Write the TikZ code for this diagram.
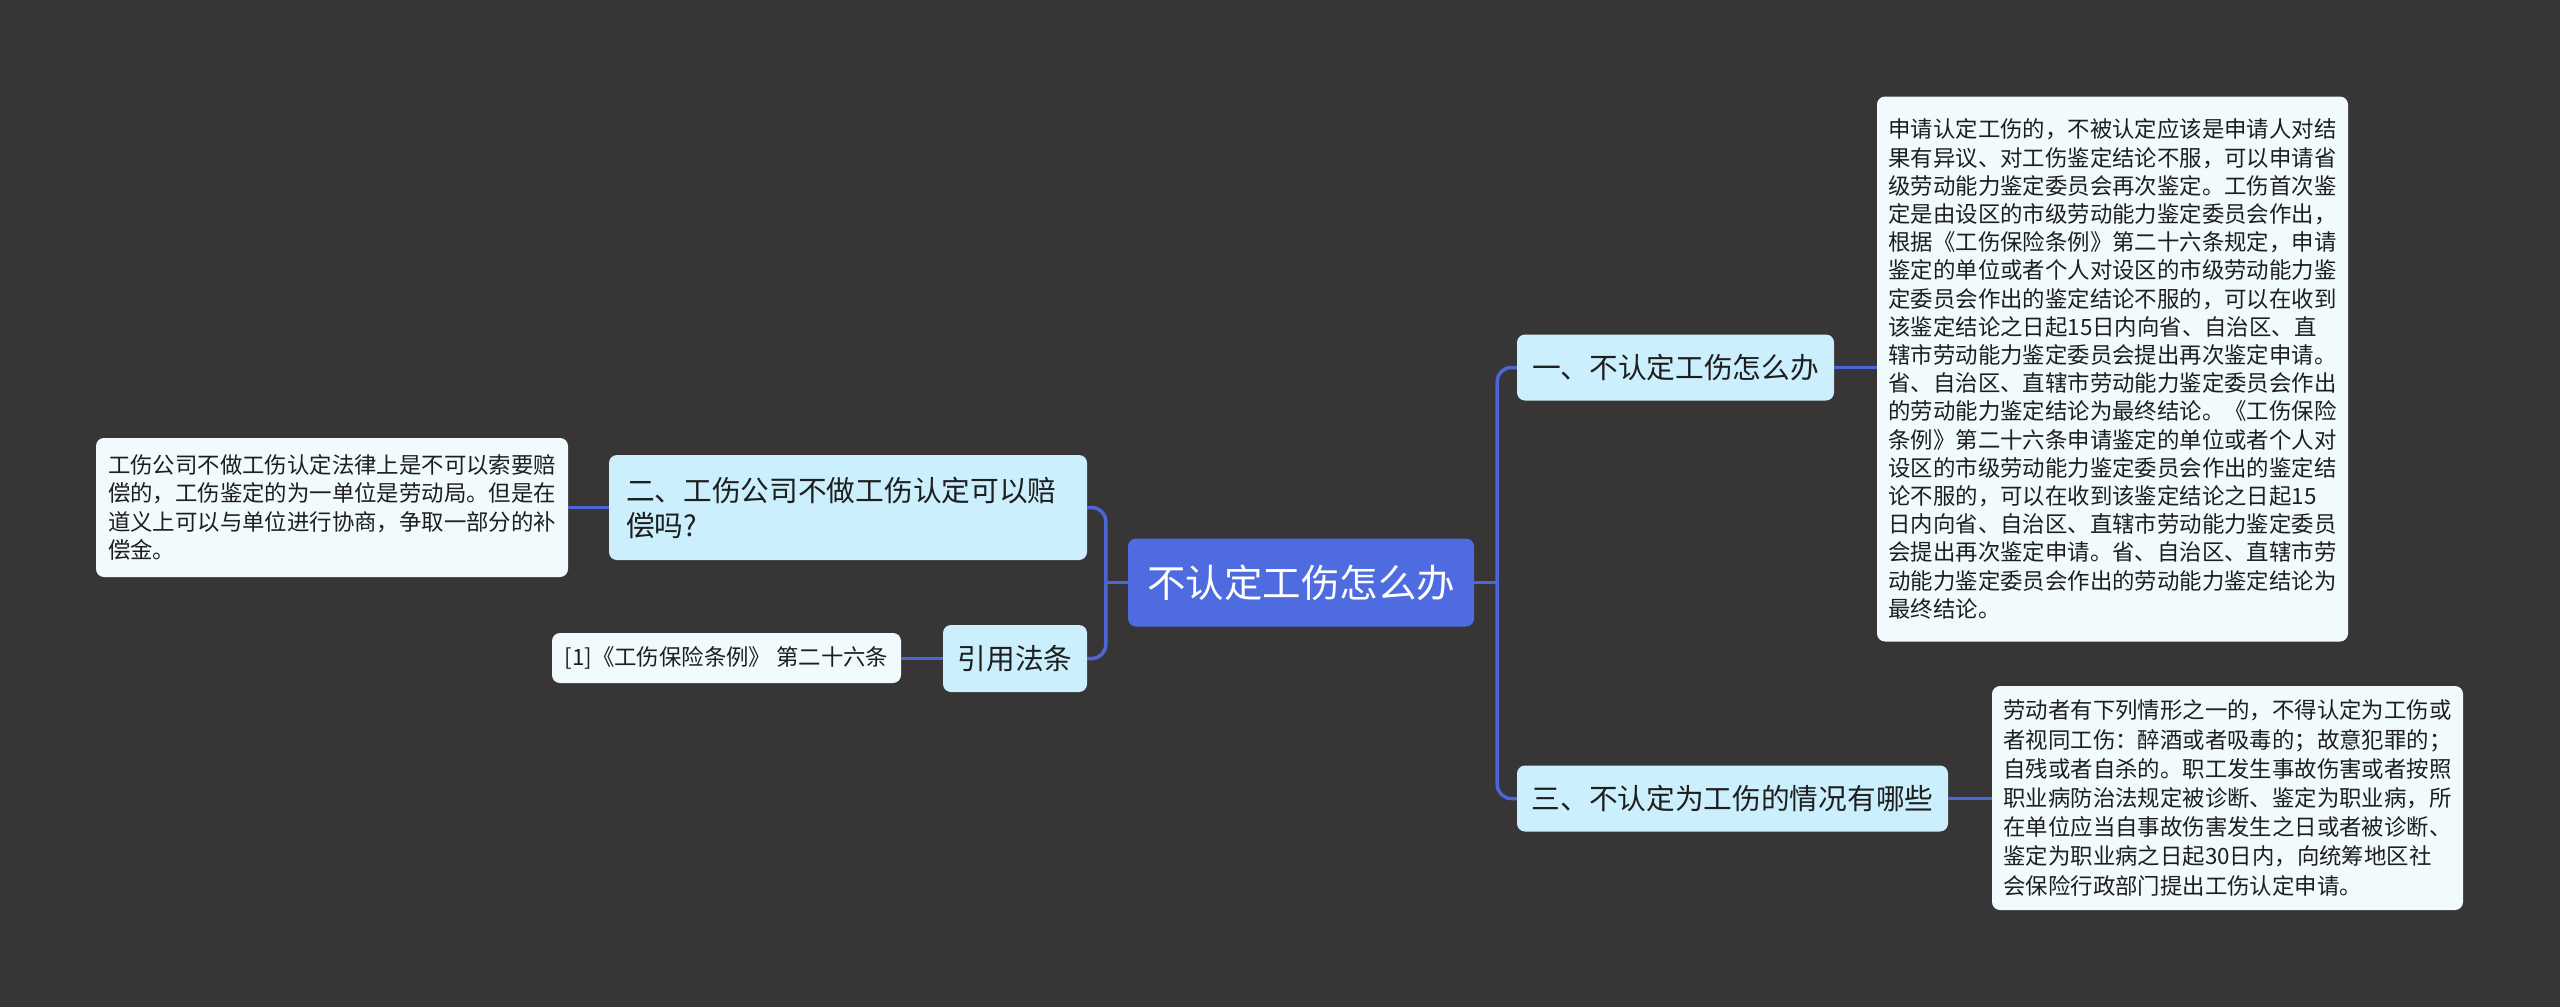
\documentclass[tikz,border=0pt]{standalone}
\usepackage{fontspec}
\setmainfont{Noto Sans CJK SC}
\definecolor{bg}{RGB}{55,53,54}
\definecolor{rootblue}{RGB}{78,108,224}
\definecolor{linkblue}{RGB}{76,102,214}
\definecolor{branchfill}{RGB}{203,239,252}
\definecolor{leaffill}{RGB}{241,251,254}
\definecolor{txt}{RGB}{30,30,30}
\tikzset{
  conn/.style={draw=linkblue, line width=3.5pt},
  leafconn/.style={draw=linkblue, line width=3pt},
  rootbox/.style={fill=rootblue, rounded corners=8pt, text=white,
    font=\fontsize{38.5pt}{46pt}\selectfont, inner sep=0pt,
    minimum width=346pt, minimum height=88pt},
  branchbox/.style={fill=branchfill, rounded corners=8pt, text=txt,
    font=\fontsize{28.7pt}{35pt}\selectfont, inner sep=0pt, minimum height=66pt},
  leafbox/.style={fill=leaffill, rounded corners=8pt, text=txt,
    font=\fontsize{22.4pt}{28.3pt}\selectfont, inner sep=0pt, align=left},
}
\begin{document}
\begin{tikzpicture}[x=1pt, y=-1pt]
\fill[bg] (0,0) rectangle (2560,1007);
\useasboundingbox (0,0) rectangle (2560,1007);

% root
\node[rootbox] (root) at (1301,582.5) {不认定工伤怎么办};

% right branches
\node[branchbox, minimum width=317pt] (b1) at (1675.5,367.5) {一、不认定工伤怎么办};
\node[branchbox, minimum width=431pt] (b3) at (1732.5,798.5) {三、不认定为工伤的情况有哪些};

% left branches
\node[branchbox, minimum width=478pt, minimum height=105pt, text width=444pt, align=left] (b2) at (848,507.5) {二、工伤公司不做工伤认定可以赔\\偿吗?};
\node[branchbox, minimum width=144pt, minimum height=67pt] (cite) at (1015,658.5) {引用法条};

% leaves
\node[leafbox, minimum width=471pt, minimum height=545pt, font=\fontsize{22.4pt}{28.2pt}\selectfont] (leaf1) at (2112.5,369) {申请认定工伤的，不被认定应该是申请人对结\\果有异议、对工伤鉴定结论不服，可以申请省\\级劳动能力鉴定委员会再次鉴定。工伤首次鉴\\定是由设区的市级劳动能力鉴定委员会作出，\\根据《工伤保险条例》第二十六条规定，申请\\鉴定的单位或者个人对设区的市级劳动能力鉴\\定委员会作出的鉴定结论不服的，可以在收到\\该鉴定结论之日起15日内向省、自治区、直\\辖市劳动能力鉴定委员会提出再次鉴定申请。\\省、自治区、直辖市劳动能力鉴定委员会作出\\的劳动能力鉴定结论为最终结论。《工伤保险\\条例》第二十六条申请鉴定的单位或者个人对\\设区的市级劳动能力鉴定委员会作出的鉴定结\\论不服的，可以在收到该鉴定结论之日起15\\日内向省、自治区、直辖市劳动能力鉴定委员\\会提出再次鉴定申请。省、自治区、直辖市劳\\动能力鉴定委员会作出的劳动能力鉴定结论为\\最终结论。};

\node[leafbox, minimum width=471pt, minimum height=224pt, font=\fontsize{22.4pt}{29.2pt}\selectfont] (leaf3) at (2227.5,798) {劳动者有下列情形之一的，不得认定为工伤或\\者视同工伤：醉酒或者吸毒的；故意犯罪的；\\自残或者自杀的。职工发生事故伤害或者按照\\职业病防治法规定被诊断、鉴定为职业病，所\\在单位应当自事故伤害发生之日或者被诊断、\\鉴定为职业病之日起30日内，向统筹地区社\\会保险行政部门提出工伤认定申请。};

\node[leafbox, minimum width=472pt, minimum height=139pt] (leaf2) at (332,507.5) {工伤公司不做工伤认定法律上是不可以索要赔\\偿的，工伤鉴定的为一单位是劳动局。但是在\\道义上可以与单位进行协商，争取一部分的补\\偿金。};

\node[leafbox, minimum width=349pt, minimum height=50pt] (ref) at (726.5,658) {[1]《工伤保险条例》 第二十六条};

% connectors: root to right
\draw[conn] (root.east) -- ++(23,0);
\draw[conn, rounded corners=14pt] (root.east) ++(23,0) |- (b1.west);
\draw[conn, rounded corners=14pt] (root.east) ++(23,0) |- (b3.west);
% connectors: root to left
\draw[conn] (root.west) -- ++(-22,0);
\draw[conn, rounded corners=14pt] (root.west) ++(-22,0) |- (b2.east);
\draw[conn, rounded corners=14pt] (root.west) ++(-22,0) |- (cite.east);

% branch to leaves
\draw[leafconn] (b1.east) -- (b1.east -| leaf1.west);
\draw[leafconn] (b3.east) -- (b3.east -| leaf3.west);
\draw[leafconn] (b2.west) -- (b2.west -| leaf2.east);
\draw[leafconn] (cite.west) -- (cite.west -| ref.east);
\end{tikzpicture}
\end{document}
